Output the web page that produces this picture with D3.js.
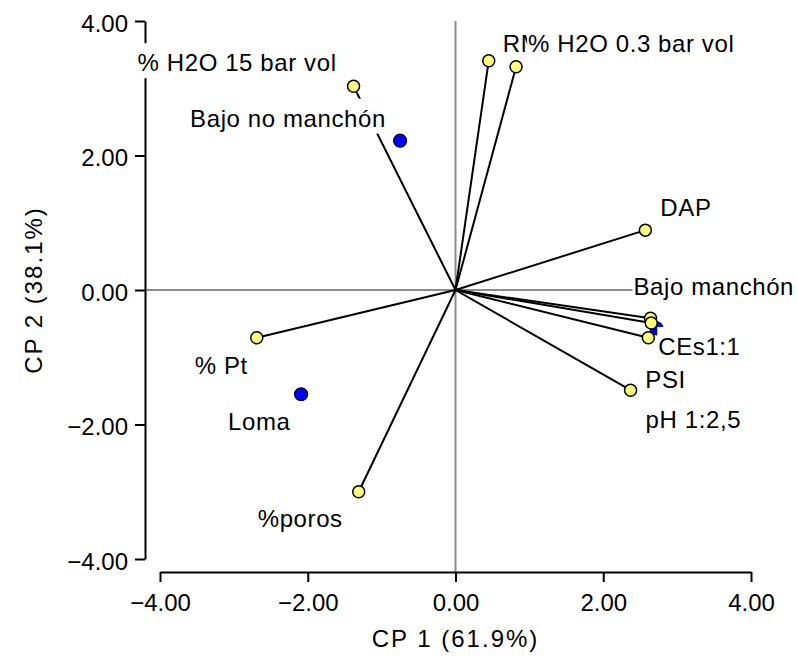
<!DOCTYPE html>
<html>
<head>
<meta charset="utf-8">
<script src="https://cdn.jsdelivr.net/npm/d3@7"></script>
<style>
  body { margin: 0; background: #fff; }
  svg { display: block; font-family: "Liberation Sans", Arial, sans-serif; }
</style>
</head>
<body>
<div id="chart"></div>
<script>
// Variables (vectors) of the biplot
const varNames = ["% H2O 15 bar vol", "RM", "% H2O 0.3 bar vol", "DAP", "", "CEs1:1", "PSI", "pH 1:2,5", "% Pt", "%poros"];
const varCP1 = [-1.38, 0.45, 0.82, 2.57, 2.64, 2.65, 2.61, 2.37, -2.69, -1.31];
const varCP2 = [3.03, 3.41, 3.32, 0.89, -0.42, -0.49, -0.71, -1.49, -0.71, -3.00];

// Observations (sites)
const siteNames = ["Bajo no manchón", "Loma", "Bajo manchón"];
const siteCP1 = [-0.75, -2.09, 2.72];
const siteCP2 = [2.22, -1.55, -0.57];

// Axis ticks
const tickValues = [-4, -2, 0, 2, 4];

// Label placement, pixel offsets from the point [dx, dy]
const varLabelOffsets = [[-216, -15], [14, -9], [12, -15], [15, -14], [0, 0], [7, 32], [-3, 50], [15, 38], [-62, 36], [-101, 35]];
const siteLabelOffsets = [[-210, -14], [-73, 36], [-23, -33]];

const width = 798, height = 658;
const fontSize = 24;

const svg = d3.select("#chart")
    .append("svg")
    .attr("width", width)
    .attr("height", height);

const x = d3.scaleLinear().domain([-4, 4]).range([160, 751]);
const y = d3.scaleLinear().domain([-4, 4]).range([559, 21]);

const axisX = 145;   // y axis position
const axisY = 572;   // x axis position

// Zero reference lines
svg.append("line")
    .attr("x1", axisX).attr("x2", x(4))
    .attr("y1", y(0)).attr("y2", y(0))
    .attr("stroke", "#8c8c8c").attr("stroke-width", 2);
svg.append("line")
    .attr("x1", x(0)).attr("x2", x(0))
    .attr("y1", axisY).attr("y2", y(4))
    .attr("stroke", "#8c8c8c").attr("stroke-width", 2);

// Y axis
const yAxis = svg.append("g")
    .attr("transform", `translate(${axisX},0)`)
    .call(d3.axisLeft(y).tickValues(tickValues).tickSize(10).tickSizeOuter(0).tickPadding(7).tickFormat(d3.format(".2f")));
yAxis.select(".domain").attr("stroke", "#000").attr("stroke-width", 2);
yAxis.selectAll(".tick line").attr("stroke", "#000").attr("stroke-width", 2);
yAxis.selectAll(".tick text")
    .attr("fill", "#000")
    .style("font-size", fontSize + "px")
    .style("font-family", "Liberation Sans, Arial, sans-serif")
    .attr("dy", "0.42em");

// X axis
const xAxis = svg.append("g")
    .attr("transform", `translate(0,${axisY})`)
    .call(d3.axisBottom(x).tickValues(tickValues).tickSize(10).tickSizeOuter(0).tickPadding(6).tickFormat(d3.format(".2f")));
xAxis.select(".domain").attr("stroke", "#000").attr("stroke-width", 2);
xAxis.selectAll(".tick line").attr("stroke", "#000").attr("stroke-width", 2);
xAxis.selectAll(".tick text")
    .attr("fill", "#000")
    .style("font-size", fontSize + "px")
    .style("font-family", "Liberation Sans, Arial, sans-serif")
    .attr("dy", "0.95em");

// Axis titles
svg.append("text")
    .attr("x", x(0))
    .attr("y", 647)
    .attr("text-anchor", "middle")
    .style("font-size", fontSize + "px")
    .style("letter-spacing", "2px")
    .text("CP 1 (61.9%)");

svg.append("text")
    .attr("transform", `translate(42,${y(0)}) rotate(-90)`)
    .attr("text-anchor", "middle")
    .style("font-size", fontSize + "px")
    .style("letter-spacing", "2px")
    .text("CP 2 (38.1%)");

// Site points (behind the vectors)
svg.selectAll(".site")
    .data(siteNames)
    .enter()
    .append("circle")
    .attr("class", "site")
    .attr("cx", (d, i) => x(siteCP1[i]))
    .attr("cy", (d, i) => y(siteCP2[i]))
    .attr("r", 6.5)
    .attr("fill", "#0000ff")
    .attr("stroke", "#000")
    .attr("stroke-width", 1.2);

// Vectors from origin
svg.selectAll(".vec")
    .data(varNames)
    .enter()
    .append("line")
    .attr("class", "vec")
    .attr("x1", x(0)).attr("y1", y(0))
    .attr("x2", (d, i) => x(varCP1[i]))
    .attr("y2", (d, i) => y(varCP2[i]))
    .attr("stroke", "#000")
    .attr("stroke-width", 2);

svg.selectAll(".vecpt")
    .data(varNames)
    .enter()
    .append("circle")
    .attr("class", "vecpt")
    .attr("cx", (d, i) => x(varCP1[i]))
    .attr("cy", (d, i) => y(varCP2[i]))
    .attr("r", 6)
    .attr("fill", "#ffff80")
    .attr("stroke", "#000")
    .attr("stroke-width", 1.5);

// Labels with white background
function addLabel(text, px, py) {
    if (!text) return;
    const g = svg.append("g");
    const bg = g.append("rect").attr("fill", "#fff");
    const t = g.append("text")
        .attr("x", px)
        .attr("y", py)
        .attr("fill", "#000")
        .style("font-size", fontSize + "px")
        .style("letter-spacing", "0.6px")
        .text(text);
    const bb = t.node().getBBox();
    bg.attr("x", bb.x - 1)
        .attr("y", py - 28)
        .attr("width", bb.width + 2)
        .attr("height", 35);
}

varNames.forEach((d, i) => {
    addLabel(d, x(varCP1[i]) + varLabelOffsets[i][0], y(varCP2[i]) + varLabelOffsets[i][1]);
});
siteNames.forEach((d, i) => {
    addLabel(d, x(siteCP1[i]) + siteLabelOffsets[i][0], y(siteCP2[i]) + siteLabelOffsets[i][1]);
});
</script>
</body>
</html>
